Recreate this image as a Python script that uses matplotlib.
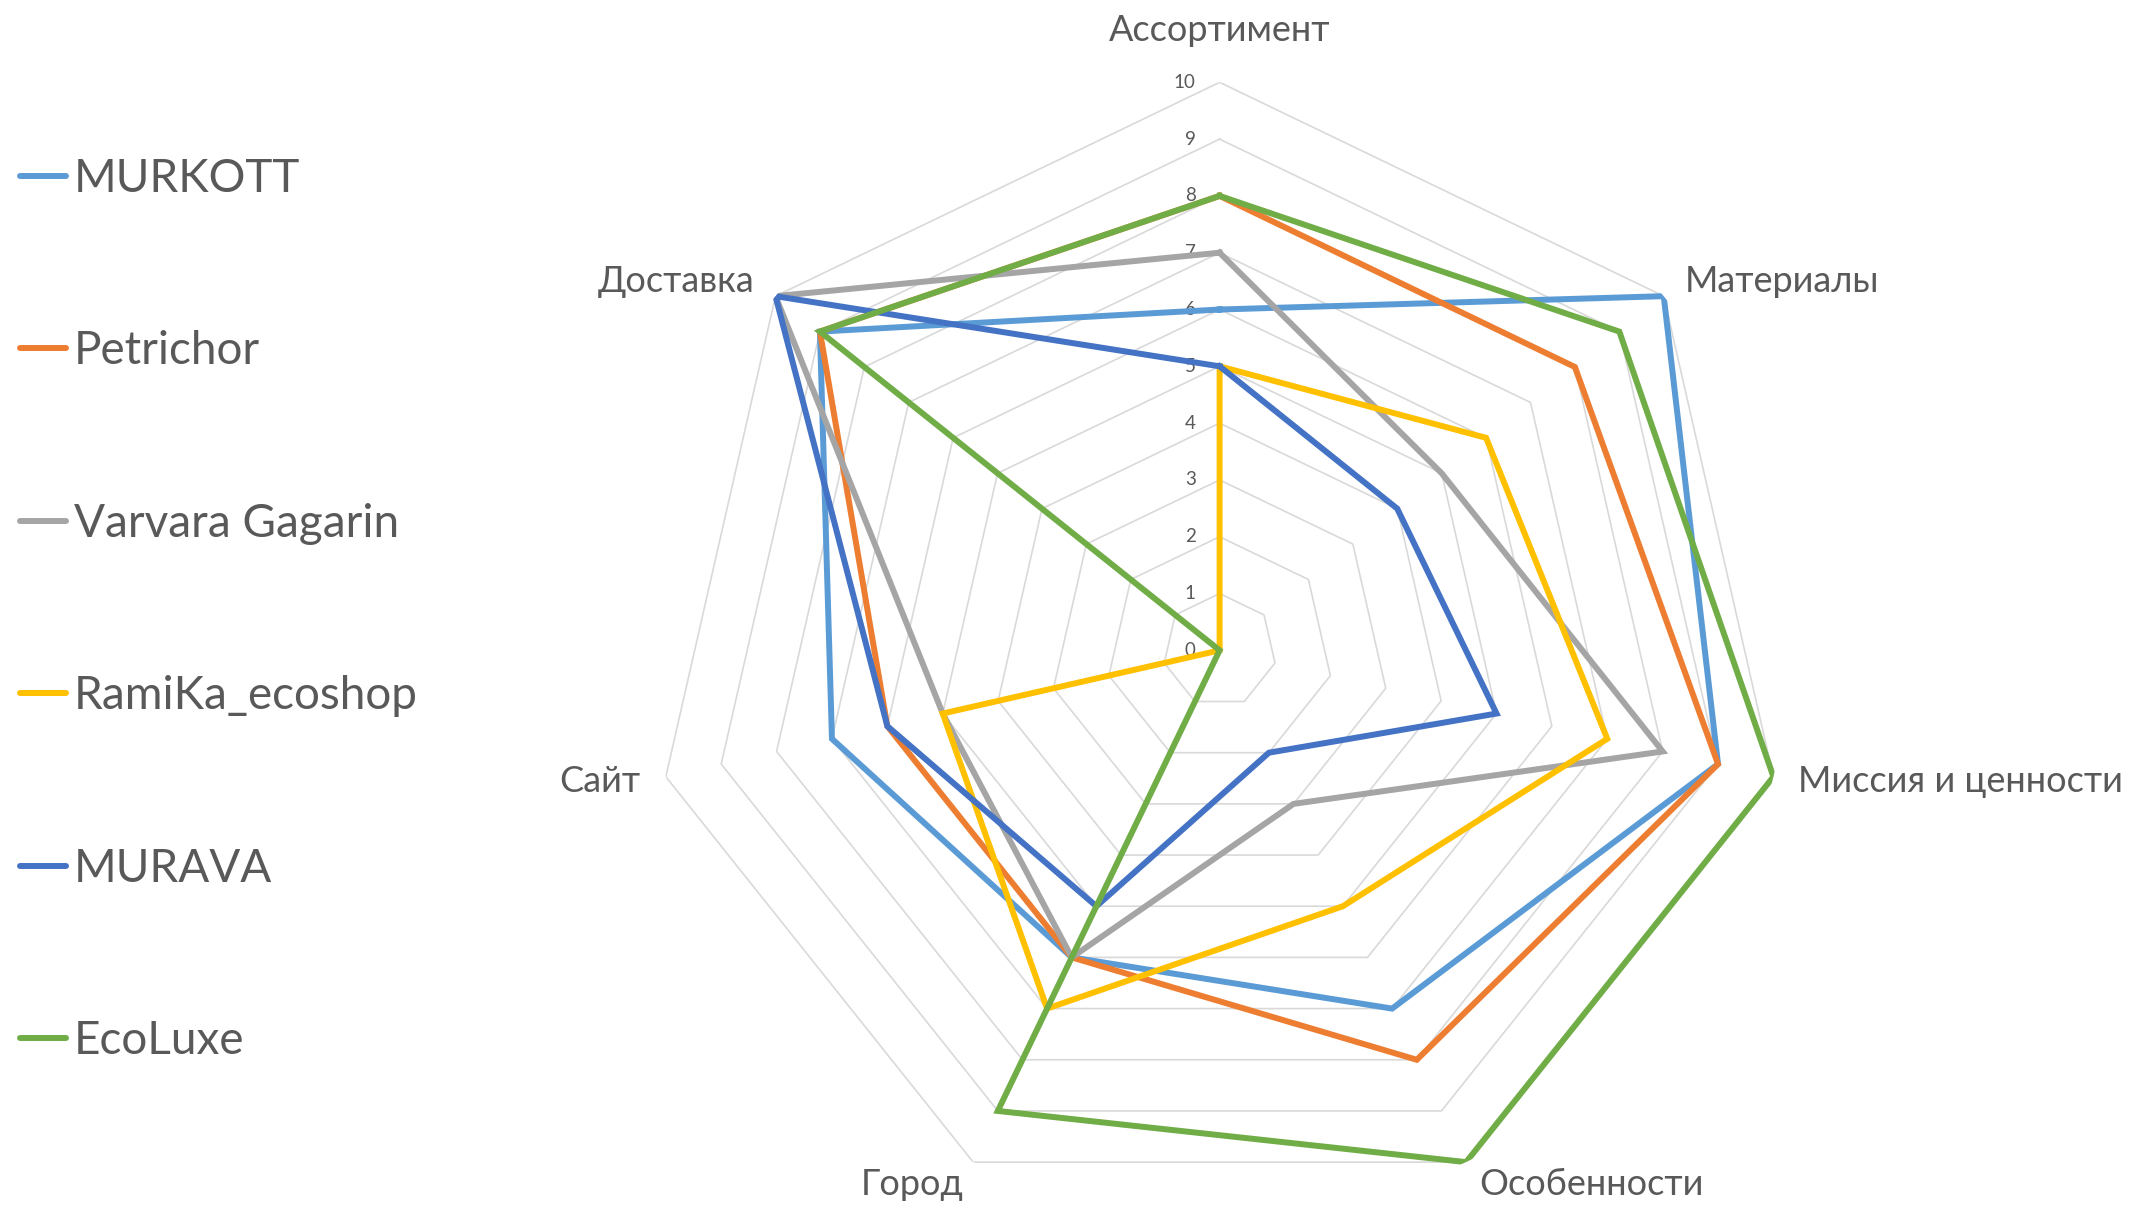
import numpy as np
import matplotlib.pyplot as plt
from matplotlib.lines import Line2D
from matplotlib.transforms import offset_copy

plt.rcParams['font.family'] = ['Lato', 'DejaVu Sans']

# ---------------------------------------------------------------- data
categories = ["Ассортимент", "Материалы", "Миссия и ценности", "Особенности",
              "Город", "Сайт", "Доставка"]
series_names = ["MURKOTT", "Petrichor", "Varvara Gagarin", "RamiKa_ecoshop",
                "MURAVA", "EcoLuxe"]
murkott = [6, 10, 9, 7, 6, 7, 9]
petrichor = [8, 8, 9, 8, 6, 6, 9]
varvara = [7, 5, 8, 3, 6, 5, 10]
ramika = [5, 6, 7, 5, 7, 5, 0]
murava = [5, 4, 5, 2, 5, 6, 10]
ecoluxe = [8, 9, 10, 10, 9, 0, 9]
levels = list(range(0, 11))

colors = ["#5B9BD5", "#ED7D31", "#A5A5A5", "#FFC000", "#4472C4", "#70AD47"]
text_col = "#595959"

# ---------------------------------------------------------------- figure
fig = plt.figure(figsize=(21.51, 12.05), dpi=100)
ax = fig.add_axes([0.3029, -0.0111, 0.5282, 0.9428], projection='polar')
ax.set_theta_offset(np.pi / 2)
ax.set_theta_direction(-1)
ax.set_ylim(0, 10)
ax.grid(False)
ax.spines['polar'].set_visible(False)
ax.set_xticks([])
ax.set_yticks([])
ax.patch.set_alpha(0)

n = len(categories)
angles = np.linspace(0, 2 * np.pi, n, endpoint=False)
ang_c = np.append(angles, angles[0])

# polygon grid
for r in levels[1:]:
    ax.plot(ang_c, [r] * (n + 1), color="#D9D9D9", lw=1.2, zorder=1)

# level labels
tr = offset_copy(ax.transData, fig=fig, x=-24, y=0, units='dots')
for r in levels:
    ax.text(0, r, str(r), transform=tr, ha='right', va='center',
            fontsize=13.5, color=text_col)

# category labels
lab_style = [  # ha, va, dx, dy (pixels)
    ('center', 'center', 0, 52),
    ('left', 'center', 21, 15),
    ('left', 'center', 25, -5),
    ('left', 'center', 13, -22),
    ('right', 'center', -10, -22),
    ('right', 'center', -25, -5),
    ('right', 'center', -21, 15),
]
for a, lab, (ha, va, dx, dy) in zip(angles, categories, lab_style):
    t = offset_copy(ax.transData, fig=fig, x=dx, y=dy, units='dots')
    ax.text(a, 10, lab, transform=t, ha=ha, va=va, fontsize=26, color=text_col)

# series
all_series = [murkott, petrichor, varvara, ramika, murava, ecoluxe]
for vals, name, c in zip(all_series, series_names, colors):
    ax.plot(ang_c, vals + vals[:1], color=c, lw=4.3, label=name, zorder=3,
            solid_joinstyle='miter')

# legend
handles = [Line2D([0], [0], color=c, lw=4.3, solid_capstyle='round') for c in colors]
leg = fig.legend(handles, series_names, loc='upper left',
                 bbox_to_anchor=(20 / 2151, 1 - 158 / 1205),
                 frameon=False, fontsize=33, handlelength=1.0,
                 handletextpad=0.18, labelspacing=2.845,
                 borderpad=0, borderaxespad=0)
for t in leg.get_texts():
    t.set_color(text_col)

fig.savefig("out.png", dpi=100)
